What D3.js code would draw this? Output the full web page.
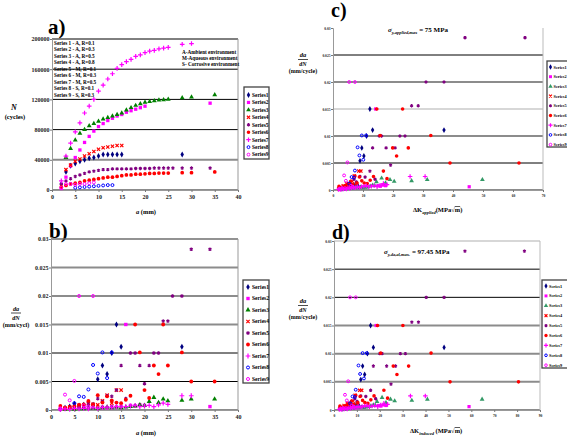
<!DOCTYPE html>
<html><head><meta charset="utf-8">
<script src="https://cdn.jsdelivr.net/npm/d3@7"></script>
<style>
body{margin:0;background:#fff}
svg{display:block}
text{font-family:"Liberation Serif","Times New Roman",serif}
</style>
</head><body>
<svg id="chart" width="567" height="438"></svg>
<script>
// ---------------- DATA ----------------
const seriesNames = ["Series1","Series2","Series3","Series4","Series5","Series6","Series7","Series8","Series9"];
const seriesNotes = ["Series 1 - A, R=0.1","Series 2 - A, R=0.3","Series 3 - A, R=0.5","Series 4 - A, R=0.8",
  "Series 5 - M, R=0.1","Series 6 - M, R=0.3","Series 7 - M, R=0.5","Series 8 - S, R=0.1","Series 9 - S, R=0.3"];
const envNotes = ["A-Ambient environment","M-Aqueous environment","S- Corrosive environment"];

// panel a) crack length a (mm) vs cycles N
const growthA = [
  [2,3,4,5,6,7,8,9,10,11,12,13,14,15,28],
  [2,3,4,5,6,7,8,9,10,11,12,13,14,15,16,17,18,19,20,34],
  [3,4,5,6,7,8,9,10,11,12,13,14,15,16,17,18,19,20,21,22,23,24,25,28,30,35],
  [3,4,5,6,7,8,9,10,11,12,13,14,15],
  [2,3,4,5,6,7,8,9,10,11,12,13,14,15,16,17,18,19,20,21,22,23,24,25,26,28,30,34],
  [2,3,4,5,6,7,8,9,10,11,12,13,14,15,16,17,18,19,20,21,22,23,24,25,28,30,35],
  [2,3,4,5,6,7,8,9,10,11,12,13,14,15,16,17,18,19,20,21,22,23,24,25,28,30],
  [5,6,7,8,9,10,11,12,13],
  [2,3,4,5,6,7,8,9]
];
const growthN = [
  [8000,24000,32000,35000,38000,40000,42000,43000,45000,47000,47000,47000,47000,47000,47000],
  [2000,17000,32000,43000,53000,63000,71000,78000,84000,88000,92000,95000,98000,100000,103000,105000,107000,109000,111000,115000],
  [43000,55000,66000,75000,80000,85000,88000,91000,94000,96000,98000,100000,102000,106000,109000,112000,114000,116000,117000,118000,119000,119500,120000,122000,123000,126000],
  [27000,33000,38000,41000,45000,48000,51000,54000,56000,57000,58000,59000,59000],
  [8000,12000,15000,18000,20000,22000,24000,25000,26000,27000,27000,28000,28000,28000,28000,28000,28500,28500,28500,28500,29000,29000,29000,29000,29000,29000,29000,29000],
  [4000,6000,8000,9000,10000,12000,13000,14000,15000,16000,17000,17000,18000,19000,20000,20000,21000,21000,21500,22000,22000,22500,22500,22500,23000,23000,24000],
  [12000,45000,62000,77000,89000,102000,111000,120000,131000,139000,147000,154000,161000,166000,170000,173000,177000,179000,182000,184000,185000,187000,188000,189000,193000,194000],
  [3000,3500,4000,4500,5000,5500,6000,6500,6500],
  [3000,8000,8000,7000,8000,8000,9000,10000]
];

// panels b), c), d): growth rate da/dN with a, dK applied, dK induced
const rateA = [
  [2,3,4,5,6,7,8,9,10,11,12,13,14,15,28],
  [2,3,4,5,6,7,8,9,10,11,12,13,14,15,16,17,18,19,20,34],
  [3,4,5,6,7,8,9,10,11,12,13,14,15,16,17,18,19,20,21,22,23,24,25,28,30,35],
  [3,4,5,6,7,8,9,10,11,12,13,14,15],
  [2,3,4,5,6,7,8,9,10,11,12,13,14,15,16,17,18,19,20,21,22,23,24,25,26,28,30,34],
  [2,3,4,5,6,7,8,9,10,11,12,13,14,15,16,17,18,19,20,21,22,23,24,25,28,30,35],
  [2,3,4,5,6,7,8,9,10,11,12,13,14,15,16,17,18,19,20,21,22,23,24,25,28,30],
  [5,6,7,8,9,10,11,12,13],
  [2,3,4,5,6,7,8,9]
];
const rateDadN = [
  [0.0002,0.0004,0.0006,0.0011,0.0008,0.0009,0.0007,0.0009,0.0054,0.0078,0.0063,0.0100,0.0150,0.0111,0.0111],
  [0.0001,0.0002,0.0003,0.0002,0.0004,0.0003,0.0005,0.0004,0.0003,0.0005,0.0004,0.0006,0.0005,0.0006,0.0150,0.0008,0.0007,0.0009,0.0008,0.0006],
  [0.0001,0.0002,0.0001,0.0002,0.0002,0.0003,0.0003,0.0003,0.0004,0.0005,0.0004,0.0005,0.0004,0.0005,0.0006,0.0007,0.0009,0.0008,0.0015,0.0022,0.0013,0.0019,0.0016,0.0017,0.0019,0.0019],
  [0.0003,0.0005,0.0004,0.0008,0.0006,0.0012,0.0010,0.0009,0.0016,0.0026,0.0012,0.0035,0.0035],
  [0.0002,0.0003,0.0004,0.0005,0.0006,0.0005,0.0012,0.0010,0.0020,0.0015,0.0025,0.0024,0.0035,0.0078,0.0020,0.0100,0.0100,0.0078,0.0046,0.0078,0.0100,0.0100,0.0156,0.0156,0.0200,0.0200,0.0282,0.0282],
  [0.0007,0.0004,0.0005,0.0007,0.0009,0.0010,0.0016,0.0010,0.0026,0.0013,0.0024,0.0017,0.0013,0.0012,0.0018,0.0025,0.0150,0.0101,0.0035,0.0021,0.0078,0.0063,0.0150,0.0078,0.0101,0.0050,0.0050],
  [0.0001,0.0002,0.0001,0.0003,0.0002,0.0003,0.0002,0.0004,0.0003,0.0004,0.0005,0.0004,0.0006,0.0005,0.0006,0.0007,0.0008,0.0006,0.0007,0.0008,0.0006,0.0009,0.0012,0.0010,0.0025,0.0025],
  [0.0012,0.0024,0.0023,0.0036,0.0079,0.0064,0.0101,0.0056,0.0101],
  [0.0003,0.0027,0.0017,0.0051,0.0200,0.0008,0.0006,0.0200]
];
const rateDKapplied = [
  [3.0,3.8,4.8,5.6,6.3,7.0,7.6,8.2,9.0,9.6,10.3,11.2,12.3,13.2,37.0],
  [2.6,3.0,3.5,4.0,4.6,5.2,5.8,6.4,7.1,7.8,8.5,9.3,10.1,11.0,14.2,15.0,15.8,16.6,17.5,45.4],
  [2.4,2.8,3.3,3.8,4.4,5.0,5.6,6.3,7.0,7.7,8.4,9.2,10.0,10.8,11.6,12.4,13.2,13.9,14.5,16.2,17.5,19.0,20.4,26.2,31.4,49.8],
  [1.9,2.4,2.9,3.4,3.9,4.5,5.1,5.7,6.4,7.1,7.8,8.6,9.3],
  [2.0,2.5,3.0,3.6,4.2,4.8,5.5,6.2,7.0,7.8,9.0,10.7,12.3,13.2,14.0,15.4,16.2,17.7,19.2,20.7,22.3,24.0,26.2,28.4,31.0,37.0,44.0,64.0],
  [2.0,2.6,3.2,3.8,4.5,5.2,5.9,6.6,7.3,8.0,8.8,9.6,10.4,11.4,12.4,13.5,14.6,15.7,16.8,18.0,19.9,21.2,23.2,25.1,32.6,39.0,62.0],
  [1.8,2.2,2.6,3.0,3.5,4.0,4.5,5.0,5.6,6.2,6.8,7.4,8.1,8.8,9.5,10.3,11.1,11.9,12.8,13.7,14.7,15.7,16.8,18.0,25.7,30.7],
  [5.4,6.2,7.0,7.3,8.2,8.8,9.6,10.1,11.0],
  [3.0,3.7,4.3,4.8,5.4,6.0,6.6,7.3]
];
const rateDKinduced = [
  [3.9,4.9,6.2,7.3,8.2,9.1,9.9,10.7,11.7,12.5,13.4,14.6,16.0,17.2,48.1],
  [3.4,3.9,4.5,5.2,6.0,6.8,7.5,8.3,9.2,10.1,11.0,12.1,13.1,14.3,18.4,19.5,20.5,21.6,22.7,59.0],
  [3.1,3.6,4.3,4.9,5.7,6.5,7.3,8.2,9.1,10.0,10.9,12.0,13.0,14.0,15.1,16.1,17.2,18.1,18.8,21.0,22.7,24.7,26.5,34.0,40.8,64.7],
  [2.5,3.1,3.8,4.4,5.1,5.8,6.6,7.4,8.3,9.2,10.1,11.2,12.1],
  [2.6,3.2,3.9,4.7,5.5,6.2,7.1,8.1,9.1,10.1,11.7,13.9,16.0,17.2,18.2,20.0,21.0,23.0,24.9,26.9,29.0,31.2,34.0,36.9,40.3,48.1,57.2,83.2],
  [2.6,3.4,4.2,4.9,5.8,6.8,7.7,8.6,9.5,10.4,11.4,12.5,13.5,14.8,16.1,17.5,19.0,20.4,21.8,23.4,25.9,27.5,30.1,32.6,42.4,50.7,80.6],
  [2.3,2.9,3.4,3.9,4.5,5.2,5.8,6.5,7.3,8.1,8.8,9.6,10.5,11.4,12.3,13.4,14.4,15.5,16.6,17.8,19.1,20.4,21.8,23.4,33.4,39.9],
  [7.0,8.1,9.1,9.5,10.7,11.4,12.5,13.1,14.3],
  [3.9,4.8,5.6,6.2,7.0,7.8,8.6,9.5]
];

const ticksN = [0,40000,80000,120000,160000,200000];
const ticksRate = [0,0.005,0.01,0.015,0.02,0.025,0.03];
const ticksA = [0,5,10,15,20,25,30,35,40];
const ticksKapp = [0,10,20,30,40,50,60,70];
const ticksKind = [0,10,20,30,40,50,60,70,80,90];

// ---------------- STYLE ----------------
const shapes = ["diamond","square","triangle","times","asterisk","circle","plus","ocircle","ocircle"];
const colorsAB = ["#000080","#FF00FF","#008000","#FF0000","#800080","#FF0000","#FF00FF","#0000FF","#FF00FF"];
const colorsCD = ["#000080","#FF00FF","#339966","#FF0000","#800080","#FF0000","#FF00FF","#0000FF","#FF00FF"];

const svg = d3.select("#chart");
svg.append("rect").attr("width",567).attr("height",438).attr("fill","#fff");

function marker(g, i, cx, cy, s, colors) {
  const c = colors[i], sh = shapes[i];
  let type, fill = c, stroke = "none", sw = 0, size = s*s;
  if (sh === "diamond") { type = d3.symbolDiamond; size = s*s*0.75; }
  else if (sh === "square") { type = d3.symbolSquare; size = s*s*0.8; }
  else if (sh === "triangle") { type = d3.symbolTriangle; size = s*s*0.75; }
  else if (sh === "circle") { type = d3.symbolCircle; size = s*s*0.8; }
  else if (sh === "times") { type = d3.symbolTimes; fill = "none"; stroke = c; sw = 1.2; size = s*s*0.6; }
  else if (sh === "asterisk") { type = d3.symbolAsterisk; fill = "none"; stroke = c; sw = 1.2; size = s*s*0.6; }
  else if (sh === "plus") { type = d3.symbolPlus; fill = "none"; stroke = c; sw = 1.2; size = s*s*0.6; }
  else { type = d3.symbolCircle; fill = "none"; stroke = c; sw = 1.0; size = s*s*0.5; }
  g.append("path").attr("d", d3.symbol().type(type).size(size)())
    .attr("transform", `translate(${cx},${cy})`)
    .attr("fill", fill).attr("stroke", stroke).attr("stroke-width", sw);
}

function panel(cfg) {
  const g = svg.append("g");
  const x = d3.scaleLinear().domain(cfg.xDomain).range([cfg.left, cfg.right]);
  const y = d3.scaleLinear().domain(cfg.yDomain).range([cfg.bottom, cfg.top]);
  cfg.yTicks.forEach((t, k) => {
    const st = cfg.grid[k];
    if (!st) return;
    g.append("line").attr("x1", cfg.left).attr("x2", cfg.right)
      .attr("y1", y(t)).attr("y2", y(t))
      .attr("stroke", st === "k" ? "#000" : (st === "g" ? "#8c8c8c" : "#b0b0b0"))
      .attr("stroke-width", st === "k" ? 1 : (st === "g" ? 2 : 1.2));
  });
  if (cfg.rightBorder) g.append("line").attr("x1", cfg.right).attr("x2", cfg.right)
      .attr("y1", cfg.top).attr("y2", cfg.bottom).attr("stroke", cfg.rightBorder).attr("stroke-width", 1);
  const ya = d3.axisLeft(y).tickValues(cfg.yTicks).tickSize(2).tickFormat(cfg.yFmt);
  const xa = d3.axisBottom(x).tickValues(cfg.xTicks).tickSize(2).tickFormat(d3.format("d"));
  const gy = g.append("g").attr("transform", `translate(${cfg.left},0)`).call(ya);
  const gx = g.append("g").attr("transform", `translate(0,${cfg.bottom})`).call(xa);
  [gy, gx].forEach(ax => {
    ax.select(".domain").attr("stroke", "#999").attr("stroke-width", 1);
    ax.selectAll(".tick line").attr("stroke", "#777");
    ax.selectAll("text").attr("font-size", cfg.tickFont).attr("font-weight", "bold").attr("fill", "#222");
  });
  gy.selectAll("text").attr("x", -2.5);
  gx.selectAll("text").attr("y", cfg.xTickDy);
  const mg = g.append("g");
  for (let i = 0; i < cfg.xs.length; i++) {
    cfg.xs[i].forEach((v, j) => marker(mg, i, x(v), y(cfg.ys[i][j]), cfg.ms, cfg.colors));
  }
  const L = cfg.legend;
  g.append("rect").attr("x", L.x).attr("y", L.y).attr("width", L.w).attr("height", L.h)
    .attr("fill", "#fff").attr("stroke", "#444").attr("stroke-width", 1.3);
  seriesNames.forEach((n, i) => {
    const yy = L.y0 + i * L.dy;
    marker(g, i, L.mx, yy, L.ms, cfg.colors);
    g.append("text").attr("x", L.tx).attr("y", yy).attr("dy", "0.35em")
      .attr("font-size", L.font).attr("font-weight", "bold").text(n);
  });
  g.append("text").attr("x", cfg.label[0]).attr("y", cfg.label[1]).attr("font-size", cfg.label[2])
    .attr("font-weight", "bold").text(cfg.label[3]);
  return {g, x, y};
}

const fmtN = d => d3.format("d")(d);
const fmtR = d => d === 0 ? "0" : String(+d.toFixed(3));

// ---- panel a
const pa = panel({
  left: 52, right: 238, top: 39, bottom: 190,
  xDomain: [0, 40], yDomain: [0, 200000], xTicks: ticksA, yTicks: ticksN,
  grid: ["g","g","k","k","k","k"], rightBorder: "#999",
  yFmt: fmtN, tickFont: 6, xTickDy: 5, ms: 3.7, colors: colorsAB,
  xs: growthA, ys: growthN,
  legend: {x: 244, y: 87, w: 25, h: 72, y0: 95, dy: 7.45, mx: 248.5, tx: 252, ms: 3.6, font: 5.4},
  label: [48, 34, 21, "a)"]
});
seriesNotes.forEach((t, k) => pa.g.append("text").attr("x", 54).attr("y", 45 + k * 6.45)
  .attr("font-size", 5.2).attr("font-weight", "bold").text(t));
envNotes.forEach((t, k) => pa.g.append("text").attr("x", 182).attr("y", 54 + k * 5.9)
  .attr("font-size", 5.2).attr("font-weight", "bold").text(t));
pa.g.append("text").attr("x", 14).attr("y", 110).attr("font-size", 8).attr("font-style", "italic")
  .attr("font-weight", "bold").attr("text-anchor", "middle").text("N");
pa.g.append("text").attr("x", 15).attr("y", 119).attr("font-size", 6.5).attr("font-weight", "bold")
  .attr("text-anchor", "middle").text("(cycles)");
pa.g.append("text").attr("x", 146).attr("y", 214).attr("font-size", 6.5).attr("font-weight", "bold")
  .attr("text-anchor", "middle").html('<tspan font-style="italic">a</tspan> (mm)');

// ---- panel b
const pb = panel({
  left: 51, right: 238, top: 239, bottom: 410,
  xDomain: [0, 40], yDomain: [0, 0.03], xTicks: ticksA, yTicks: ticksRate,
  grid: ["g","k","k","g","g","g","g"], rightBorder: "#999",
  yFmt: fmtR, tickFont: 6, xTickDy: 5, ms: 3.8, colors: colorsAB,
  xs: rateA, ys: rateDadN,
  legend: {x: 243, y: 280, w: 26, h: 103, y0: 287, dy: 11.5, mx: 248, tx: 252, ms: 3.8, font: 5.6},
  label: [49, 238, 21, "b)"]
});
function rateTitle(g, cx, y0, fs) {
  g.append("text").attr("x", cx).attr("y", y0).attr("font-size", fs).attr("font-style", "italic")
    .attr("font-weight", "bold").attr("text-anchor", "middle").text("da");
  g.append("line").attr("x1", cx - 5).attr("x2", cx + 5).attr("y1", y0 + 2).attr("y2", y0 + 2)
    .attr("stroke", "#000").attr("stroke-width", 0.7);
  g.append("text").attr("x", cx).attr("y", y0 + 8.5).attr("font-size", fs).attr("font-style", "italic")
    .attr("font-weight", "bold").attr("text-anchor", "middle").text("dN");
  g.append("text").attr("x", cx).attr("y", y0 + 16).attr("font-size", fs).attr("font-weight", "bold")
    .attr("text-anchor", "middle").text("(mm/cycl)");
}
rateTitle(pb.g, 16, 311, 6.2);
pb.g.append("text").attr("x", 146).attr("y", 435).attr("font-size", 6.5).attr("font-weight", "bold")
  .attr("text-anchor", "middle").html('<tspan font-style="italic">a</tspan> (mm)');
pb.g.append("line").attr("x1", 51).attr("x2", 238).attr("y1", 239).attr("y2", 239).attr("stroke", "#999");

// ---- panel c
const pc = panel({
  left: 333, right: 543, top: 28, bottom: 190,
  xDomain: [0, 70], yDomain: [0, 0.03], xTicks: ticksKapp, yTicks: ticksRate,
  grid: ["g","k","g","s","g","k",null], rightBorder: "#bbb",
  yFmt: fmtR, tickFont: 3.6, xTickDy: 4, ms: 3.6, colors: colorsCD,
  xs: rateDKapplied, ys: rateDadN,
  legend: {x: 547, y: 61, w: 24, h: 86, y0: 67, dy: 9.7, mx: 550.5, tx: 553.5, ms: 3.3, font: 4.3},
  label: [331, 17, 20, "c)"]
});
function rateTitle2(g, cx, y0) {
  g.append("text").attr("x", cx).attr("y", y0).attr("font-size", 6.5).attr("font-style", "italic")
    .attr("font-weight", "bold").attr("text-anchor", "middle").text("da");
  g.append("line").attr("x1", cx - 5).attr("x2", cx + 5).attr("y1", y0 + 2.5).attr("y2", y0 + 2.5)
    .attr("stroke", "#000").attr("stroke-width", 0.7);
  g.append("text").attr("x", cx).attr("y", y0 + 9).attr("font-size", 6).attr("font-style", "italic")
    .attr("font-weight", "bold").attr("text-anchor", "middle").text("dN");
  g.append("text").attr("x", cx).attr("y", y0 + 16).attr("font-size", 6).attr("font-weight", "bold")
    .attr("text-anchor", "middle").text("(mm/cycle)");
}
rateTitle2(pc.g, 303, 57);
pc.g.append("text").attr("x", 388).attr("y", 32).attr("font-size", 7).attr("font-weight", "bold")
  .html('<tspan font-style="italic">σ</tspan><tspan font-size="4.5" dy="2" font-style="italic">y,applied,max</tspan><tspan dy="-2"> = 75 MPa</tspan>');
pc.g.append("text").attr("x", 413).attr("y", 212).attr("font-size", 6.5).attr("font-weight", "bold")
  .html('ΔK<tspan font-size="4.5" dy="2" font-style="italic">applied</tspan><tspan dy="-2">(MPa√</tspan><tspan text-decoration="overline">m</tspan>)');

// ---- panel d
const pd = panel({
  left: 334, right: 540, top: 241, bottom: 410,
  xDomain: [0, 90], yDomain: [0, 0.03], xTicks: ticksKind, yTicks: ticksRate,
  grid: ["g","g","g","g","k","k","s"], rightBorder: "#bbb",
  yFmt: fmtR, tickFont: 3.6, xTickDy: 4, ms: 3.6, colors: colorsCD,
  xs: rateDKinduced, ys: rateDadN,
  legend: {x: 542, y: 280, w: 28, h: 88, y0: 286, dy: 9.9, mx: 546, tx: 549, ms: 3.3, font: 4.3},
  label: [332, 239, 20, "d)"]
});
rateTitle2(pd.g, 303, 303);
pd.g.append("text").attr("x", 384).attr("y", 254).attr("font-size", 7).attr("font-weight", "bold")
  .html('<tspan font-style="italic">σ</tspan><tspan font-size="4.5" dy="2" font-style="italic">y,da,al,max.</tspan><tspan dy="-2"> = 97.45 MPa</tspan>');
pd.g.append("text").attr("x", 410).attr("y", 433).attr("font-size", 6.5).attr("font-weight", "bold")
  .html('ΔK<tspan font-size="4.5" dy="2" font-style="italic">induced</tspan><tspan dy="-2"> (MPa√</tspan><tspan text-decoration="overline">m</tspan>)');
</script>
</body></html>
